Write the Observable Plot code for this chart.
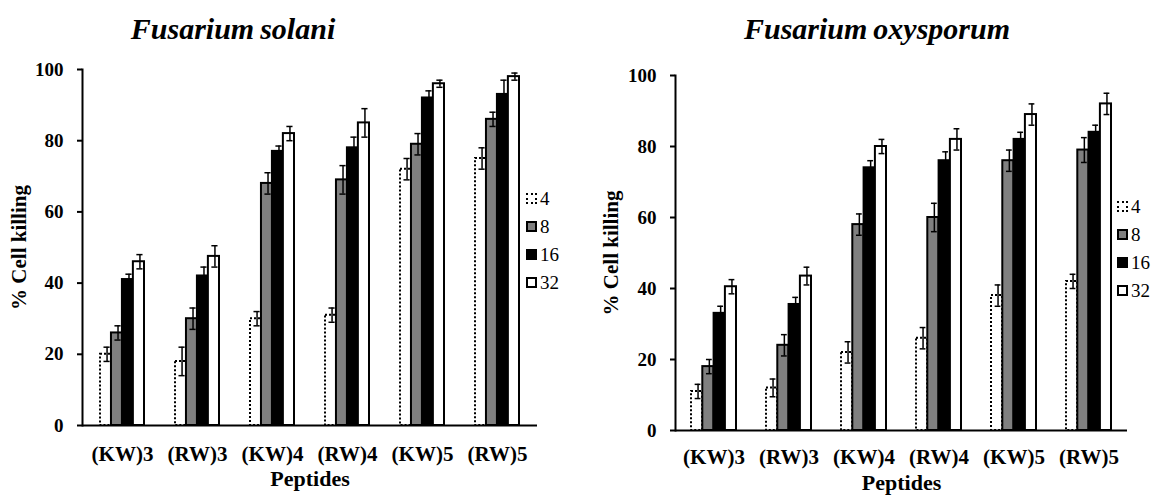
<!DOCTYPE html>
<html><head><meta charset="utf-8">
<script src="https://cdn.jsdelivr.net/npm/d3@7"></script>
<script src="https://cdn.jsdelivr.net/npm/@observablehq/plot@0.6"></script>
<style>
body{margin:0;background:#fff;}
#wrap{position:relative;width:1155px;height:500px;overflow:hidden;background:#fff;font-family:serif;}
.panel{position:absolute;top:0;}
.title{position:absolute;font-family:serif;font-weight:bold;font-style:italic;font-size:30px;transform:translateX(-50%);white-space:nowrap;line-height:1;}
.legend{position:absolute;font-family:serif;font-size:19px;line-height:1;}
.item{position:absolute;left:0;display:flex;align-items:center;white-space:nowrap;}
.sw{display:inline-block;width:7px;height:7px;border:2px solid #000;margin-right:3px;}
svg [aria-label="y-axis label"]{font-size:21px;}
svg [aria-label="x-axis label"]{font-size:22px;}
</style></head>
<body><div id="wrap"></div>
<script>
const peptides = ["(KW)3", "(RW)3", "(KW)4", "(RW)4", "(KW)5", "(RW)5"];
const concs = ["4", "8", "16", "32"];
const yTicks = [0, 20, 40, 60, 80, 100];
const titles = ["Fusarium\u2009solani", "Fusarium\u2009oxysporum"];

// Fusarium solani: mean % cell killing per concentration
const solani4 = [20, 18, 30, 31, 72, 75];
const solani8 = [26, 30, 68, 69, 79, 86];
const solani16 = [41, 42, 77, 78, 92, 93];
const solani32 = [46, 47.5, 82, 85, 96, 98];
const solaniErr4 = [2, 4, 2, 2, 3, 3];
const solaniErr8 = [2, 3, 3, 4, 3, 2];
const solaniErr16 = [1.5, 2.5, 1.5, 3, 2, 4];
const solaniErr32 = [2, 3, 2, 4, 1, 1];

// Fusarium oxysporum
const oxy4 = [11, 12, 22, 26, 38, 42];
const oxy8 = [18, 24, 58, 60, 76, 79];
const oxy16 = [33, 35.5, 74, 76, 82, 84];
const oxy32 = [40.5, 43.5, 80, 82, 89, 92];
const oxyErr4 = [2, 2.5, 3, 3, 3, 2];
const oxyErr8 = [2, 3, 3, 4, 3, 3.5];
const oxyErr16 = [2, 2, 2, 2.5, 2, 2];
const oxyErr32 = [2, 2.5, 2, 3, 3, 3];

const fills = ["white", "#808080", "black", "white"];

function buildRows(series, errs) {
  const rows = [];
  concs.forEach((c, i) => peptides.forEach((p, j) => rows.push({peptide: p, conc: c, value: series[i][j], err: errs[i][j]})));
  return rows;
}

function panel(o) {
  const rows = buildRows(o.series, o.errs);
  const n = peptides.length;
  const step = (o.width - o.ml - o.mr) / (n - o.pi + 2 * o.po);
  const bw = step * (1 - o.pi);
  const sub = bw / concs.length;
  const capW = 6;
  const marks = [];
  concs.forEach((c, i) => {
    const data = rows.filter(d => d.conc === c);
    const barOpts = {x: "peptide", y: "value", fill: fills[i], stroke: "black", strokeWidth: 2,
      insetLeft: i * sub, insetRight: (concs.length - 1 - i) * sub};
    if (i === 0) barOpts.strokeDasharray = "2,2";
    marks.push(Plot.barY(data, barOpts));
  });
  concs.forEach((c, i) => {
    const data = rows.filter(d => d.conc === c);
    const left = i * sub + (sub - capW) / 2 + 1;
    marks.push(Plot.ruleX(data, {x: "peptide", y1: d => d.value - d.err, y2: d => d.value + d.err,
      dx: (i + 0.5) * sub - bw / 2 + 1, stroke: "black", strokeWidth: 1.5}));
    marks.push(Plot.tickY(data, {x: "peptide", y: d => d.value - d.err, stroke: "black", strokeWidth: 1.5,
      insetLeft: left, insetRight: bw - left - capW}));
    marks.push(Plot.tickY(data, {x: "peptide", y: d => d.value + d.err, stroke: "black", strokeWidth: 1.5,
      insetLeft: left, insetRight: bw - left - capW}));
  });
  marks.push(Plot.ruleY([0], {stroke: "black", strokeWidth: 2}));
  marks.push(Plot.frame({anchor: "left", stroke: "black", strokeWidth: 2}));
  marks.push(Plot.axisY({ticks: yTicks, tickSize: 5, strokeWidth: 2, tickPadding: 14, fontSize: 19, fontWeight: "bold",
    label: "% Cell killing", labelAnchor: "center", labelArrow: "none", labelOffset: o.ylo}));
  marks.push(Plot.axisX({tickSize: 0, tickPadding: o.tp, fontSize: 21, fontWeight: "bold",
    label: "Peptides", labelAnchor: "center", labelArrow: "none", labelOffset: o.xlo}));
  return Plot.plot({
    width: o.width, height: 500,
    marginLeft: o.ml, marginRight: o.mr, marginTop: o.mt, marginBottom: o.mb,
    style: {fontFamily: "serif", color: "black", background: "transparent", overflow: "visible"},
    x: {domain: peptides, paddingInner: o.pi, paddingOuter: o.po, axis: null},
    y: {domain: [0, 100], axis: null},
    marks
  });
}

const wrap = document.getElementById("wrap");
function addPanel(left, o, title, titleX, legendX, legendY) {
  const div = document.createElement("div");
  div.className = "panel";
  div.style.left = left + "px";
  div.appendChild(panel(o));
  wrap.appendChild(div);
  const t = document.createElement("div");
  t.className = "title";
  t.textContent = title;
  t.style.left = titleX + "px";
  t.style.top = "14px";
  wrap.appendChild(t);
  const lg = document.createElement("div");
  lg.className = "legend";
  lg.style.left = legendX + "px";
  lg.style.top = legendY + "px";
  concs.forEach((c, i) => {
    const it = document.createElement("div");
    it.className = "item";
    it.style.top = (i * 28) + "px";
    const sw = document.createElement("span");
    sw.className = "sw";
    sw.style.background = fills[i];
    if (i === 0) sw.style.borderStyle = "dotted";
    it.appendChild(sw);
    const tx = document.createElement("span");
    tx.textContent = c;
    it.appendChild(tx);
    lg.appendChild(it);
  });
  wrap.appendChild(lg);
}

addPanel(0, {series: [solani4, solani8, solani16, solani32], errs: [solaniErr4, solaniErr8, solaniErr16, solaniErr32],
  width: 578, ml: 82, mr: 41, mt: 69, mb: 75, pi: 0.42, po: 0.22, ylo: 71, tp: 21, xlo: 60},
  titles[0], 233, 526, 189);
addPanel(578, {series: [oxy4, oxy8, oxy16, oxy32], errs: [oxyErr4, oxyErr8, oxyErr16, oxyErr32],
  width: 577, ml: 97, mr: 28, mt: 75, mb: 70, pi: 0.4, po: 0.2, ylo: 72, tp: 19, xlo: 59},
  titles[1], 877, 1117, 197);
</script></body></html>
